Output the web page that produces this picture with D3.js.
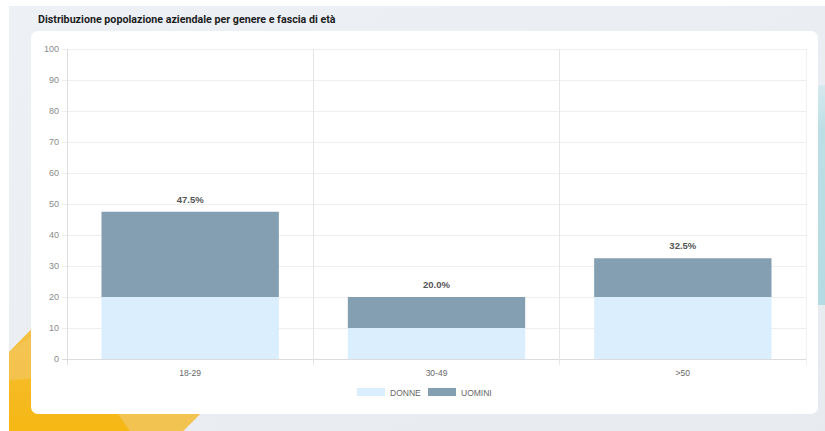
<!DOCTYPE html>
<html><head><meta charset="utf-8">
<script src="https://cdn.jsdelivr.net/npm/d3@7"></script>
<style>
html,body{margin:0;padding:0;background:#fff;}
svg{display:block;}
</style></head>
<body>
<svg id="c" width="825" height="431"></svg>
<script>
const title = "Distribuzione popolazione aziendale per genere e fascia di età";
const categories = ["18-29", "30-49", ">50"];
const donne = [20, 10, 20];
const uomini = [27.5, 10, 12.5];
const totals = ["47.5%", "20.0%", "32.5%"];
const seriesNames = ["DONNE", "UOMINI"];
const yTicks = [0,10,20,30,40,50,60,70,80,90,100];
const colors = ["#dbeefd", "#849fb2"];

const svg = d3.select("#c");
const defs = svg.append("defs");
const bgGrad = defs.append("linearGradient").attr("id","bg").attr("x1","0").attr("y1","0").attr("x2","1").attr("y2","1");
bgGrad.append("stop").attr("offset","0").attr("stop-color","#edf1f6");
bgGrad.append("stop").attr("offset","1").attr("stop-color","#e7ebf0");
const teal = defs.append("linearGradient").attr("id","teal").attr("x1","0").attr("y1","0").attr("x2","0").attr("y2","1");
teal.append("stop").attr("offset","0").attr("stop-color","#d6e9ee");
teal.append("stop").attr("offset","0.2").attr("stop-color","#bcdfe5");
teal.append("stop").attr("offset","1").attr("stop-color","#b5dbe2");
const yel = defs.append("linearGradient").attr("id","yel").attr("x1","0").attr("y1","0").attr("x2","0").attr("y2","1");
yel.append("stop").attr("offset","0").attr("stop-color","#f4c55a");
yel.append("stop").attr("offset","0.5").attr("stop-color","#f6bb2a");
yel.append("stop").attr("offset","1").attr("stop-color","#f5b814");

// page background
svg.append("rect").attr("x",9).attr("y",6).attr("width",816).attr("height",425).attr("fill","url(#bg)");
// decorative teal
svg.append("rect").attr("x",812).attr("y",85).attr("width",13).attr("height",220).attr("fill","url(#teal)");
// decorative yellow
svg.append("path").attr("d","M9,352 L60,300 L240,300 L240,400 L200,414 L183,431 L9,431 Z").attr("fill","url(#yel)");
svg.append("path").attr("d","M118,414 L200,414 L183,431 L130,431 Z").attr("fill","#f2c560").attr("opacity",0.8);
svg.append("path").attr("d","M9,352 L40,330 L40,378 L9,380 Z").attr("fill","#f3c65e").attr("opacity",0.7);

// card
svg.append("rect").attr("x",31).attr("y",31).attr("width",787).attr("height",383).attr("rx",7).attr("fill","#ffffff");

// title
svg.append("text").attr("x",38).attr("y",23).attr("font-family","Roboto, 'Helvetica Neue', Arial, sans-serif")
  .attr("font-size",10.7).attr("font-weight","bold").attr("fill","#1e1e1e").text(title);

const x = d3.scaleBand().domain(categories).range([67, 806]).paddingInner(0).paddingOuter(0);
const y = d3.scaleLinear().domain([0,100]).range([359, 49]);
const barW = x.bandwidth()*0.72;
const font = "'Helvetica Neue', Arial, 'Liberation Sans', sans-serif";

// horizontal grid
const g = svg.append("g");
g.selectAll("line.h").data(yTicks).join("line")
  .attr("x1",62).attr("x2",806).attr("y1",d=>y(d)).attr("y2",d=>y(d))
  .attr("stroke",d=>d===0?"#dcdcdc":"#eeeeee").attr("stroke-width",1).attr("shape-rendering","crispEdges");
// vertical grid boundaries
const bounds = [67, ...categories.map(c=>x(c)+x.bandwidth())];
g.selectAll("line.v").data(bounds).join("line")
  .attr("x1",d=>d).attr("x2",d=>d).attr("y1",49).attr("y2",365)
  .attr("stroke",(d,i)=>i===0?"#dddddd":(i===bounds.length-1?"#f0f0f0":"#e6e6e6")).attr("shape-rendering","crispEdges");

// y labels
g.selectAll("text.y").data(yTicks).join("text")
  .attr("x",59).attr("y",d=>y(d)+3).attr("text-anchor","end")
  .attr("font-family",font).attr("font-size",9).attr("fill","#8a8a8a").text(d=>d);

// bars
const stackData = categories.map((c,i)=>({cat:c, DONNE:donne[i], UOMINI:uomini[i]}));
const stack = d3.stack().keys(seriesNames)(stackData);
svg.append("g").selectAll("g").data(stack).join("g").attr("fill",(d,i)=>colors[i])
  .selectAll("rect").data(d=>d).join("rect")
  .attr("x",d=>x(d.data.cat)+(x.bandwidth()-barW)/2).attr("width",barW)
  .attr("y",d=>y(d[1])).attr("height",d=>y(d[0])-y(d[1]));

// totals
svg.append("g").selectAll("text").data(stackData).join("text")
  .attr("x",d=>x(d.cat)+x.bandwidth()/2).attr("y",(d,i)=>y(donne[i]+uomini[i])-9)
  .attr("text-anchor","middle").attr("font-family",font).attr("font-size",9.5).attr("font-weight","bold")
  .attr("fill","#555").text((d,i)=>totals[i]);

// x labels
svg.append("g").selectAll("text").data(categories).join("text")
  .attr("x",d=>x(d)+x.bandwidth()/2).attr("y",376).attr("text-anchor","middle")
  .attr("font-family",font).attr("font-size",8.5).attr("fill","#666").text(d=>d);

// legend
const leg = svg.append("g");
const legX = [357, 428];
seriesNames.forEach((n,i)=>{
  leg.append("rect").attr("x",legX[i]).attr("y",388).attr("width",28).attr("height",8).attr("fill",colors[i]);
  leg.append("text").attr("x",legX[i]+33).attr("y",395.5).attr("font-family",font).attr("font-size",8.5).attr("fill","#666").text(n);
});
</script>
</body></html>
